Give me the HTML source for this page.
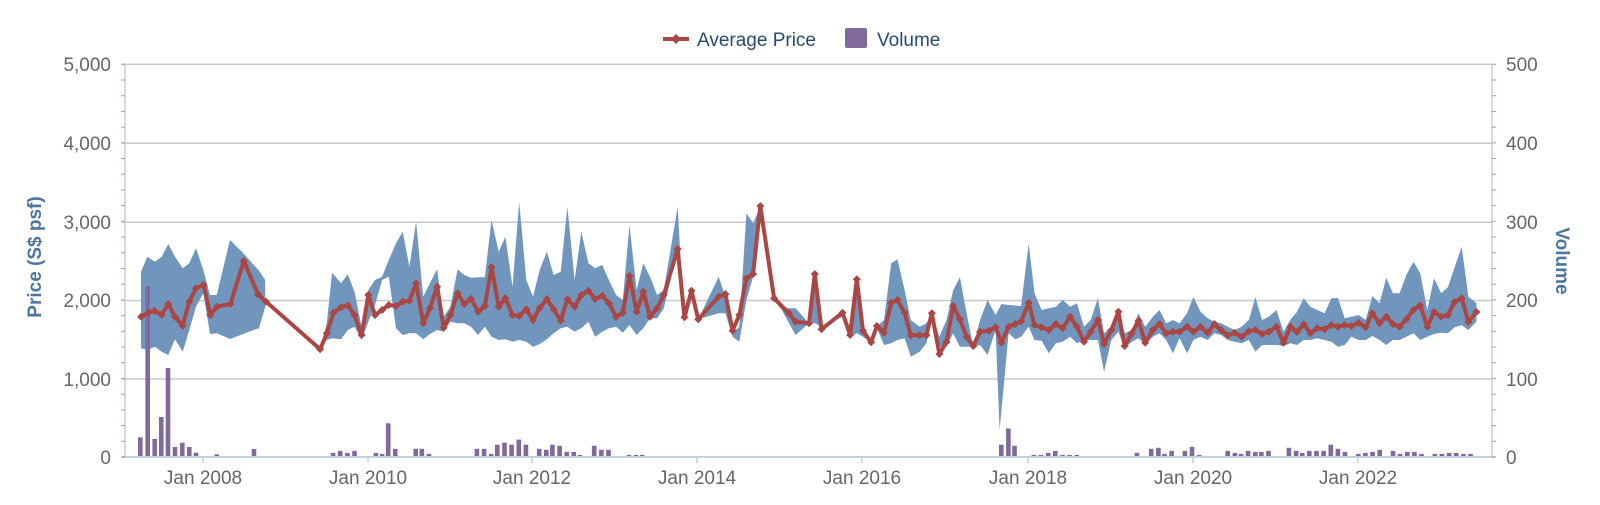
<!DOCTYPE html>
<html><head><meta charset="utf-8"><style>
html,body{margin:0;padding:0;background:#fff;}
svg{display:block;font-family:"Liberation Sans",sans-serif;}
</style></head><body>
<svg id="c" width="1600" height="505" viewBox="0 0 1600 505" xmlns="http://www.w3.org/2000/svg">
<g id="grid"></g>
<g id="band"></g>
<g id="bars"></g>
<g id="line"></g>
<g id="axes"></g>
<g font-size="19" fill="#666">
<text x="111" y="71" text-anchor="end">5,000</text>
<text x="111" y="150" text-anchor="end">4,000</text>
<text x="111" y="229" text-anchor="end">3,000</text>
<text x="111" y="307" text-anchor="end">2,000</text>
<text x="111" y="386" text-anchor="end">1,000</text>
<text x="111" y="464" text-anchor="end">0</text>
<text x="1506" y="71">500</text>
<text x="1506" y="150">400</text>
<text x="1506" y="229">300</text>
<text x="1506" y="307">200</text>
<text x="1506" y="386">100</text>
<text x="1506" y="464">0</text>
<text x="203" y="484" text-anchor="middle">Jan 2008</text>
<text x="368" y="484" text-anchor="middle">Jan 2010</text>
<text x="532" y="484" text-anchor="middle">Jan 2012</text>
<text x="697" y="484" text-anchor="middle">Jan 2014</text>
<text x="862" y="484" text-anchor="middle">Jan 2016</text>
<text x="1028" y="484" text-anchor="middle">Jan 2018</text>
<text x="1193" y="484" text-anchor="middle">Jan 2020</text>
<text x="1358" y="484" text-anchor="middle">Jan 2022</text>
</g>
<text transform="translate(41,257) rotate(-90)" text-anchor="middle" font-size="19" font-weight="bold" fill="#4d759e">Price (S$ psf)</text>
<text transform="translate(1556,261) rotate(90)" text-anchor="middle" font-size="19" font-weight="bold" fill="#4d759e">Volume</text>
<g>
<line x1="663" y1="39" x2="689" y2="39" stroke="#aa4643" stroke-width="4"/>
<path d="M676 34 L681 39 L676 44 L671 39Z" fill="#aa4643"/>
<text x="697" y="46" font-size="19" fill="#274b6d">Average Price</text>
<rect x="845" y="28" width="22" height="20" rx="2" fill="#80699b"/>
<text x="877" y="46" font-size="19" fill="#274b6d">Volume</text>
</g>
</svg>
<script>
var NS="http://www.w3.org/2000/svg";
function el(p,t,a){var e=document.createElementNS(NS,t);for(var k in a)e.setAttribute(k,a[k]);document.getElementById(p).appendChild(e);return e;}
function Z1(a){var r=[];for(var i=0;i<a.length;i+=2)r.push([100+a[i]/2.24,180+a[i+1]/3]);return r;}
function Z2(a){var r=[];for(var i=0;i<a.length;i+=2)r.push([780+a[i]/2.24,180+a[i+1]/3]);return r;}
function Z3(a){var r=[];for(var i=0;i<a.length;i+=2)r.push([60+a[i]/3,40+a[i+1]/3]);return r;}
function pts(a){return a.map(function(p){return p[0].toFixed(1)+","+p[1].toFixed(1)}).join(" ");}
// grid
var gy=[64.3,143.3,222.3,300.5,379,457];
for(var i=0;i<5;i++)el("grid","line",{x1:122,x2:1492,y1:gy[i],y2:gy[i],stroke:"#c8c8c8","stroke-width":1.5});
// band segment 1
var u1=Z3([243,695,262,650,285,665,305,650,325,612,345,650,368,685,388,670,408,625,430,690,450,765,470,765,510,600,550,640,595,690]).concat(Z1([340,265,355,270,370,300]));
var l1=Z3([243,925,262,930,285,920,305,935,325,945,345,898,368,935,388,870,408,800,430,760,450,882,470,880,510,897,595,865]).concat(Z1([355,450,370,380]));
el("band","polygon",{points:pts(u1.concat(l1.slice().reverse())),fill:"#7096be"});
var u2=Z1([493,508,508,430,520,278,540,310,555,283,570,335,586,440,601,330,616,300,632,290,647,240,663,190,678,155,693,260,708,125,724,350,739,310,755,268,770,410,785,380,801,268,816,285,831,293,847,292,862,292,877,120,893,215,908,170,924,320,939,65,955,300,970,350,985,270,1001,215,1016,285,1032,275,1047,80,1063,300,1078,155,1094,250,1109,265,1125,255,1140,300,1156,345,1171,360,1186,135,1202,330,1217,250,1232,290,1248,345,1263,330,1294,80,1309,455,1325,325,1340,418,1386,290,1401,350,1417,460,1432,440,1448,100,1463,130,1479,78,1510,355]).concat(Z2([0,385,35,385,65,430,78,282,93,448,140,398,157,465,172,298,186,452,204,487,217,438,233,420,249,250,263,238,279,330,293,420,313,440,328,430,340,400,357,470,373,420,388,330,403,292,418,400,433,500,448,420,465,360,483,405,496,372,512,375,540,378,557,190,570,340,586,390,602,385,618,380,633,360,650,380,665,370,681,440,696,420,712,355,726,460,742,440,758,395,772,460,788,450,803,400,818,440,835,410,850,390,865,430,880,420,895,430,912,400,926,350,942,395,958,415,973,425,988,430,1003,440,1018,450,1034,440,1050,420,1065,352,1080,420,1095,410,1112,390,1128,455,1143,420,1158,395,1173,355,1188,380,1203,390,1220,400,1235,355,1250,354,1265,415,1280,410,1296,405,1312,420,1327,348,1343,370,1358,293,1373,340,1388,340,1403,285,1419,245,1434,280,1450,390,1465,295,1481,340,1496,322,1511,262,1527,200,1542,350,1560,370]));
var l2=Z1([493,508,508,480,520,475,540,478,555,450,570,440,586,480,601,425,616,375,632,300,647,290,663,445,678,465,693,460,708,460,724,478,739,462,755,450,770,455,785,425,801,430,816,430,831,440,847,465,862,440,877,470,893,480,908,478,924,485,939,480,955,485,970,500,985,492,1001,478,1016,460,1032,445,1047,440,1063,455,1078,445,1094,425,1109,470,1125,455,1140,445,1156,440,1171,458,1186,435,1202,465,1217,445,1232,415,1248,415,1263,385,1294,210,1309,455,1325,335,1340,418,1386,400,1401,400,1417,470,1432,485,1448,360,1463,290,1479,78,1510,355]).concat(Z2([0,380,35,465,65,430,78,430,93,440,140,410,157,470,172,460,186,470,204,487,217,445,233,495,249,490,263,480,279,475,293,530,313,515,328,490,340,420,357,500,373,500,388,460,403,500,418,500,433,500,448,495,465,525,483,450,492,750,512,460,527,478,540,470,557,440,570,480,586,482,602,520,618,490,633,485,650,470,665,490,681,480,696,480,712,480,726,575,742,480,758,455,772,505,788,485,803,475,818,495,835,470,850,460,865,480,880,520,895,475,912,520,926,480,942,470,958,480,973,460,988,465,1003,480,1018,485,1034,490,1050,480,1065,515,1080,495,1095,495,1112,495,1128,498,1143,490,1158,495,1173,480,1188,480,1203,475,1220,480,1235,485,1250,500,1265,495,1280,470,1296,480,1312,480,1327,468,1343,480,1358,495,1373,480,1388,480,1403,470,1419,460,1434,480,1450,470,1465,462,1481,458,1496,460,1511,442,1527,436,1542,450,1560,425]));
el("band","polygon",{points:pts(u2.concat(l2.slice().reverse())),fill:"#7096be"});
// bars
var bars=[[140.3,437.3],[147.7,286],[154.7,439],[161.3,417],[168,368],[175,447],[182.3,442.7],[189.3,447],[196,452.7],[216.7,454.3],[254,449]];
var fb=[326,444,333,442,340,444,347,442,368,444,374,445,380,415,387,440,407,440,413,440,420,445,467,440,474,440,481,445,487,436,494,434,501,436,508,431,515,436,528,440,535,441,541,436,548,437,555,443,562,443,568,446,582,437,589,441,596,441,616,446,623,446,629,446,981,436,988,420,994,437,1013,446,1020,446,1027,444,1034,442,1041,446,1048,446,1055,446,1114,444,1128,440,1135,439,1141,445,1148,442,1161,442,1168,438,1175,446,1203,442,1210,444,1216,445,1223,442,1230,443,1236,443,1243,442,1263,439,1270,442,1276,444,1283,442,1290,442,1297,442,1304,436,1311,440,1318,443,1331,445,1338,444,1345,443,1352,441,1365,442,1372,445,1379,443,1386,443,1393,445,1406,445,1413,445,1420,444,1427,444,1434,445,1441,445];
for(var i=0;i<fb.length;i+=2){bars.push([125+(fb[i]-122)*1.0201,Math.min(455,64+(fb[i+1]-64)*1.0208+1)]);}
bars.forEach(function(b){el("bars","rect",{x:(b[0]-2.3).toFixed(1),y:b[1].toFixed(1),width:4.6,height:(457-b[1]).toFixed(1),fill:"#80699b"});});
// line
var r=Z1([92,410,108,398,122,392,138,404,153,372,168,410,185,437,200,365,215,325,232,315,247,405,262,380,292,372,322,243,354,343,372,365,493,508,508,460,523,398,540,382,555,376,570,405,586,465,601,345,616,405,632,390,647,375,663,378,678,365,693,362,708,310,724,430,739,385,755,320,770,443,785,405,801,340,816,372,831,356,847,395,862,378,877,262,893,380,908,355,924,405,939,408,955,388,970,420,985,384,1001,357,1016,388,1032,422,1047,358,1063,380,1078,345,1094,332,1109,357,1125,347,1140,370,1156,410,1171,398,1186,288,1202,395,1217,335,1232,410,1248,385,1263,345,1294,207,1309,412,1325,332,1340,418,1386,350,1401,342,1417,452,1432,405,1448,295,1463,282,1479,78,1510,355]).concat(Z2([20,400,35,425,65,430,78,282,93,448,140,398,157,465,172,298,186,452,204,487,217,438,233,458,249,368,263,360,279,398,293,466,313,466,328,466,340,400,357,522,373,486,388,378,403,418,418,470,433,498,448,455,468,452,483,442,496,488,512,440,527,432,540,424,557,368,570,435,586,442,602,450,618,432,633,445,650,410,665,440,681,485,696,455,712,420,726,492,742,450,758,395,772,498,788,460,803,422,818,488,835,450,850,432,865,460,880,455,895,455,912,440,926,455,942,440,958,458,973,432,988,450,1003,466,1018,458,1034,470,1050,454,1065,450,1080,462,1095,455,1112,440,1128,488,1143,440,1158,456,1173,433,1188,460,1203,445,1220,448,1235,435,1250,440,1265,435,1280,438,1296,428,1312,442,1327,400,1343,430,1358,410,1373,432,1388,440,1403,418,1419,390,1434,376,1450,440,1465,396,1481,410,1496,405,1511,366,1527,355,1542,426,1560,396]));
el("line","polyline",{points:pts(r),fill:"none",stroke:"#aa4643","stroke-width":4,"stroke-linejoin":"round"});
r.forEach(function(p){el("line","path",{d:"M"+p[0].toFixed(1)+" "+(p[1]-4).toFixed(1)+"l4 4l-4 4l-4 -4z",fill:"#aa4643"});});
// axes
el("axes","line",{x1:125,x2:125,y1:64,y2:457,stroke:"#c0d0e0","stroke-width":1.5});
el("axes","line",{x1:1492,x2:1492,y1:64,y2:457,stroke:"#c0d0e0","stroke-width":1.5});
el("axes","line",{x1:122,x2:1495,y1:457,y2:457,stroke:"#c0d0e0","stroke-width":2});
for(var k=0;k<=25;k++){var y=457-k*392.7/25;
 el("axes","line",{x1:121,x2:125,y1:y,y2:y,stroke:"#a0a0a0","stroke-width":1});
 el("axes","line",{x1:1492,x2:1496,y1:y,y2:y,stroke:"#a0a0a0","stroke-width":1});}
[203,368,532,697,862,1028,1193,1358].forEach(function(x){el("axes","line",{x1:x,x2:x,y1:457,y2:463,stroke:"#c0d0e0","stroke-width":1.5});});
</script>
</body></html>
